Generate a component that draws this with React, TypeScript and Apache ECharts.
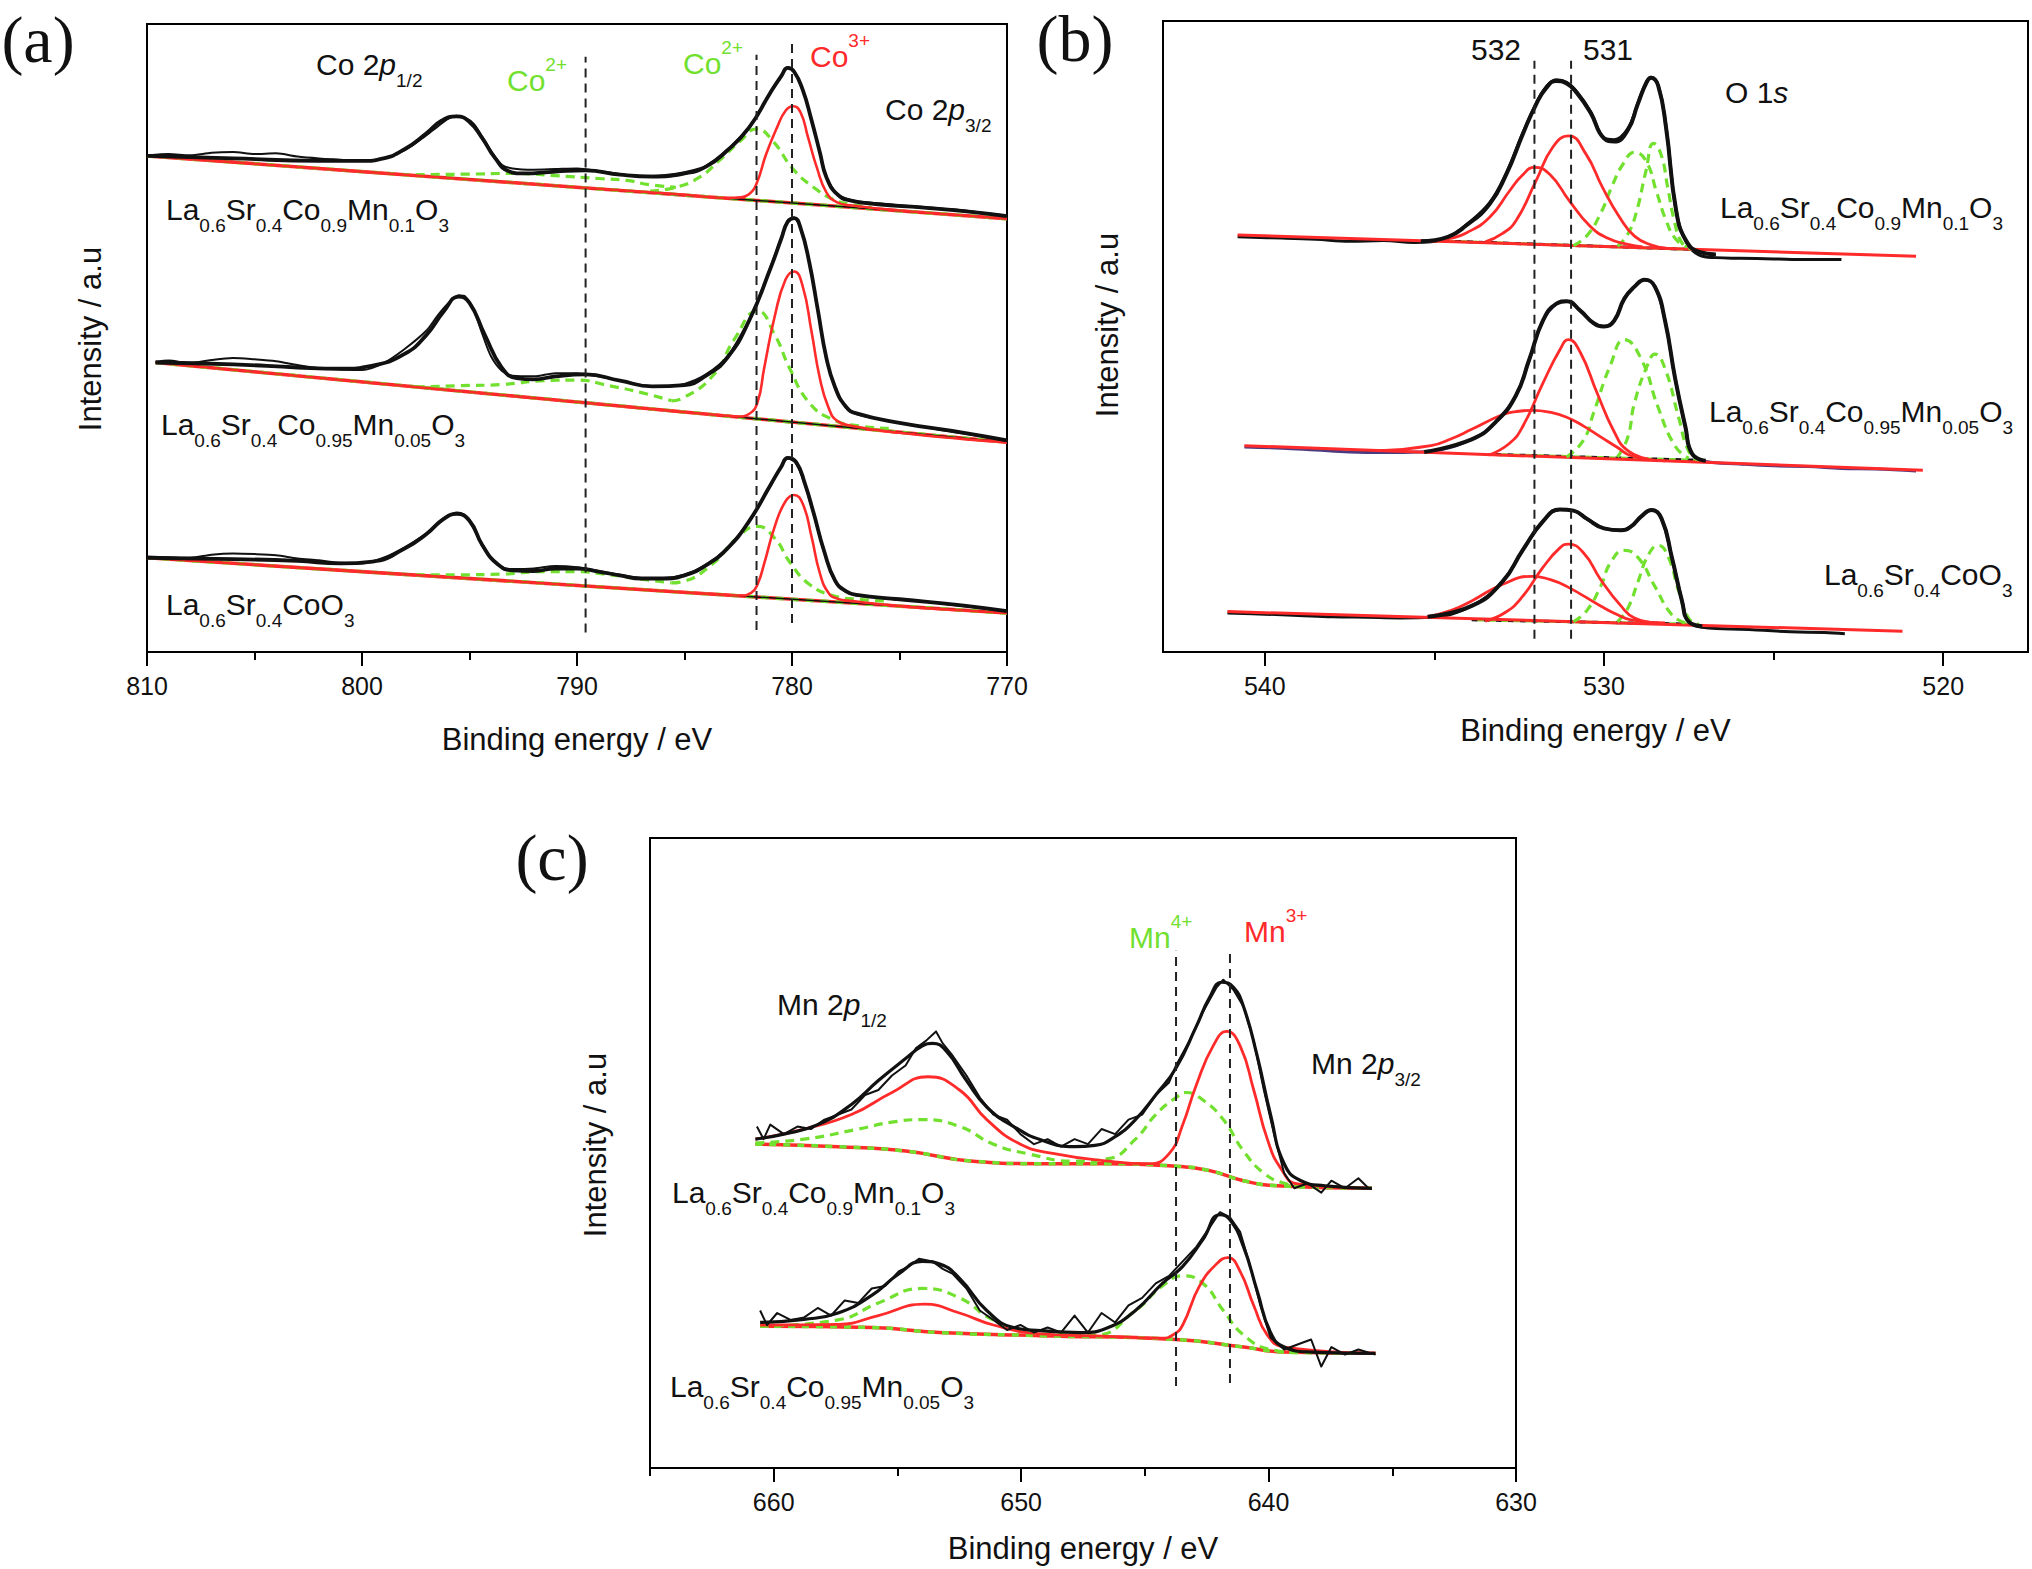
import React, { useEffect, useRef } from "react";
import * as echarts from "echarts";

const FONT = "'Liberation Sans', Arial, Helvetica, sans-serif";
const SERIF = "'Liberation Serif', 'Times New Roman', serif";
const INK = "#111111";
const RED = "#ff2a2a";
const GREEN = "#72e02e";

// ---------- axis ticks ----------
const A_MAJOR = [770, 780, 790, 800, 810];
const A_MINOR = [775, 785, 795, 805];
const B_MAJOR = [520, 530, 540];
const B_MINOR = [525, 535];
const C_MAJOR = [630, 640, 650, 660];
const C_MINOR = [635, 645, 655, 665];

// ---------- panel (a): Co 2p ----------
const A_TOP_RAW = [[809.9,79.1],[809,79.3],[808,79.1],[807,79.5],[806,79.6],[805,79.3],[804,79.4],[803,78.9],[802,78.6],[801,78.4],[800,78.2],[799,78.6],[798,79.9],[797,82.3],[796.5,83.6],[796,84.9],[795.6,85.4],[795.2,85.1],[794.8,84.1],[794.4,82.0],[794,79.8],[793.5,77.6],[793,77.0],[792,76.8],[791,76.9],[790,77.0],[789,76.6],[788,76.1],[787,75.8],[786,75.9],[785,76.4],[784,77.4],[783,80.0],[782,83.6],[781.5,86.1],[781,89.2],[780.5,91.8],[780.2,93.1],[779.9,92.5],[779.5,89.6],[779.1,84.9],[778.7,79.6],[778.4,75.7],[777.9,73.0],[777.3,72.0],[776.5,71.6],[775.3,71.2],[774,70.9],[773,70.6],[772.2,70.4],[771,69.9],[770,69.5]];
const A_TOP_FIT = [[810,79.0],[806,78.6],[802,78.2],[800,78.2],[799,78.6],[798,80.1],[797,82.6],[796.3,84.6],[795.6,85.3],[795,84.4],[794.4,81.8],[793.8,78.6],[793.2,76.6],[792.5,76.2],[791,76.5],[789.6,76.7],[788,76.0],[786.5,75.7],[785,76.2],[784,77.3],[783,79.9],[782,83.5],[781,89.1],[780.5,91.7],[780.2,93.0],[779.9,92.4],[779.5,89.5],[779.1,84.8],[778.7,79.5],[778.4,75.6],[777.9,72.9],[777.3,71.9],[776,71.3],[774,70.8],[772,70.2],[770,69.4]];
const A_TOP_BG = [[810,79.0],[770,69.0]];
const A_TOP_CO3 = [[810,79.0],[800,76.5],[790,74.0],[785,72.8],[783,72.3],[782.4,72.4],[782.0,72.9],[781.66,74.5],[781.2,79.3],[780.7,83.5],[780.3,86.2],[779.95,86.9],[779.6,85.9],[779.25,81.9],[778.85,77.2],[778.4,73.2],[777.9,71.6],[777.2,71.1],[775,70.3],[772,69.5],[770,69.0]];
const A_TOP_CO2 = [[786.6,73.4],[785.4,74.0],[784.3,75.6],[783.4,78.2],[782.4,81.4],[781.65,83.3],[780.9,81.4],[779.95,76.9],[779.0,74.0],[778.1,72.1],[777.3,71.3],[776.3,70.8]];
const A_TOP_SAT = [[797.5,76.0],[795,76.1],[793,76.2],[790.8,75.8],[789,75.4],[787.7,75.1],[786.6,74.4],[785.4,74.0]];

const A_MID_RAW = [[809.6,46.2],[809,46.4],[808,46.0],[807,46.5],[806,46.8],[805,46.6],[804,46.3],[803,45.7],[802,45.2],[801,45.0],[800,44.9],[799,46.0],[798,48.3],[797,51.2],[796.5,53.5],[796,55.5],[795.5,56.8],[795.2,56.6],[794.8,54.4],[794.4,50.6],[794,47.1],[793.5,44.8],[793,44.0],[792,43.9],[791,44.4],[790,44.4],[789,43.9],[788,43.2],[787,42.5],[786,42.2],[785,42.7],[784,44.2],[783,47.1],[782,52.9],[781.5,56.7],[781,61.3],[780.5,66.0],[780.2,68.7],[779.9,69.2],[779.6,67.5],[779.2,62.1],[778.8,54.4],[778.4,46.7],[778,42.1],[777.5,39.0],[777,37.9],[776,37.1],[775,36.5],[774,35.9],[773,35.3],[772,34.8],[771,34.2],[770,33.6]];
const A_MID_FIT = [[809.6,46.1],[806,45.8],[803,45.3],[801,45.1],[799.5,45.6],[798,47.5],[797,50.5],[796.2,54.2],[795.5,56.6],[795,55.6],[794.3,50.6],[793.5,45.3],[792.8,43.6],[792,43.4],[791,43.9],[789.6,44.2],[788,43.2],[786.5,42.3],[785,42.5],[784,44.0],[783,46.9],[782,52.7],[781,61.1],[780.5,65.8],[780.2,68.5],[779.9,69.1],[779.6,67.5],[779.2,62.1],[778.8,54.5],[778.4,46.8],[778,42.2],[777.5,39.1],[777,38.0],[775,36.5],[772,34.9],[770,33.7]];
const A_MID_BG = [[809.6,46.1],[770,33.4]];
const A_MID_CO3 = [[809.6,46.1],[800,43.0],[790,39.8],[785,38.2],[783.3,37.7],[782.5,37.5],[782.0,37.9],[781.6,39.8],[781.3,45.1],[780.8,53.5],[780.3,59.3],[779.9,60.6],[779.5,58.2],[779.1,51.2],[778.7,43.5],[778.3,38.9],[777.9,36.8],[777.2,36.0],[775,34.9],[772,33.9],[770,33.4]];
const A_MID_CO2 = [[785.6,40.0],[785.1,40.4],[783.6,44.3],[782.7,49.7],[781.6,54.3],[780.8,50.5],[780.1,45.1],[779.2,39.7],[778.1,37.0],[776.9,36.0],[775.5,35.6]];
const A_MID_SAT = [[797.5,42.2],[795.5,42.4],[793.5,42.6],[791.5,43.2],[790,43.3],[788.5,42.4],[787,41.3],[785.6,40.0]];

const A_BOT_RAW = [[810,15.2],[809,15.1],[808,15.0],[807,15.5],[806,15.7],[805,15.6],[804,15.4],[803,14.9],[802,14.6],[801,14.2],[800,14.1],[799,15.0],[798,16.7],[797,18.9],[796.5,20.3],[796,21.6],[795.6,22.2],[795.2,21.7],[794.8,19.6],[794.4,16.9],[794,15.0],[793.5,13.5],[793,13.2],[792,13.3],[791,13.7],[790,13.5],[789,12.9],[788,12.3],[787,11.8],[786,11.8],[785,12.3],[784,13.9],[783,16.6],[782,20.8],[781.5,23.5],[781,26.6],[780.5,29.5],[780.2,30.8],[779.8,30.0],[779.4,26.6],[779,22.0],[778.5,15.8],[778,11.2],[777.5,9.6],[777,9.0],[776,8.7],[775,8.3],[774,8.1],[773,7.7],[772,7.3],[771,6.9],[770,6.5]];
const A_BOT_FIT = [[810,15.0],[806,14.8],[803,14.5],[801,14.1],[799.5,14.4],[798,16.5],[797,18.8],[796.2,21.2],[795.6,22.0],[795,20.9],[794.4,17.0],[793.7,14.0],[793,13.0],[792,12.9],[791,13.3],[790,13.3],[789,12.8],[788,12.2],[787,11.7],[786,11.7],[785,12.2],[784,13.8],[783,16.5],[782,20.8],[781,26.6],[780.5,29.5],[780.2,30.9],[779.8,30.2],[779.4,26.8],[779,22.2],[778.5,16.0],[778,11.4],[777.5,9.7],[777,9.1],[775,8.4],[772,7.4],[770,6.5]];
const A_BOT_BG = [[810,15.0],[770,6.2]];
const A_BOT_CO3 = [[810,15.0],[800,12.8],[790,10.6],[785,9.5],[783,9.1],[782.4,9.0],[781.9,9.4],[781.6,10.8],[781.3,14.0],[780.8,20.0],[780.3,24.0],[779.9,25.0],[779.5,23.6],[779.1,18.5],[778.7,12.5],[778.3,9.4],[777.9,8.5],[777.2,8.1],[775,7.3],[772,6.6],[770,6.2]];
const A_BOT_CO2 = [[785.6,11.0],[785.1,11.2],[783.6,14.3],[782.7,17.7],[781.6,20.0],[780.8,18.1],[780.1,14.3],[779.2,10.8],[778.1,9.0],[776.9,8.4],[775.5,8.1]];
const A_BOT_SAT = [[797.5,12.3],[795.5,12.3],[793.5,12.4],[791.5,12.8],[790,12.8],[788.5,12.3],[787,11.6],[785.6,11.0]];
// energy, bottom, top
const A_DASH = [[789.6,3.1,94.8],[781.65,3.5,95.1],[780.0,4.6,97.1]];

// ---------- panel (b): O 1s ----------
const B_TOP_RAW = [[540.8,65.8],[539.5,65.6],[538.5,65.4],[537.5,65.1],[536.5,65.2],[535.6,64.9],[535.1,65.0],[534.6,65.7],[534.06,67.7],[533.37,71.2],[532.88,75.9],[532.39,82.3],[532.0,86.9],[531.7,89.6],[531.41,90.7],[531.1,90.3],[530.8,88.8],[530.4,85.7],[530.0,81.5],[529.7,81.2],[529.3,82.9],[529.0,87.0],[528.75,90.4],[528.61,91.1],[528.4,89.8],[528.17,83.2],[527.87,69.8],[527.58,65.0],[527.19,62.9],[526.7,62.5],[526,62.4],[525,62.3],[524,62.2],[523,62.2]];
const B_TOP_FIT = [[535.4,65.1],[534.6,65.8],[534.06,67.6],[533.37,71.0],[532.88,75.7],[532.39,82.1],[532.0,86.8],[531.7,89.4],[531.41,90.5],[531.1,90.1],[530.8,88.6],[530.4,85.5],[530.0,81.4],[529.7,80.9],[529.3,82.7],[529.0,86.9],[528.75,90.2],[528.61,91.0],[528.4,89.7],[528.17,83.1],[527.87,69.9],[527.58,65.2],[527.19,63.4],[526.7,63.0]];
const B_TOP_BASE = [[540.8,66.1],[520.8,62.7]];
const B_TOP_P532 = [[535.04,65.2],[534.5,65.6],[534.06,66.4],[533.37,68.9],[532.78,73.1],[532.4,75.6],[532.05,76.8],[531.6,75.7],[531.02,71.5],[530.43,67.6],[529.9,65.6],[529.3,64.6],[528.86,64.2]];
const B_TOP_P531 = [[533.5,65.0],[533.0,66.3],[532.59,68.4],[532.0,74.7],[531.51,80.0],[531.04,81.8],[530.53,78.9],[530.04,73.6],[529.54,68.9],[529.1,65.9],[528.6,64.5],[528.17,64.0]];
const B_TOP_G1 = [[530.9,64.4],[530.5,66.0],[530.1,69.5],[529.75,74.0],[529.44,77.3],[529.10,79.2],[528.76,77.8],[528.46,73.1],[528.17,68.4],[527.88,65.4],[527.55,64.2]];
const B_TOP_G2 = [[529.6,64.3],[529.3,66.2],[529.05,69.6],[528.76,76.3],[528.54,80.6],[528.32,78.9],[528.12,73.6],[527.93,68.4],[527.72,65.0],[527.45,63.9]];
const B_TOP_BG = [[535.1,65.2],[527.4,63.8]];

const B_MID_RAW = [[540.6,32.5],[539.5,32.3],[538.5,32.0],[537.5,31.7],[536.5,31.6],[535.5,31.7],[535.1,31.8],[533.9,33.7],[533.2,36.4],[532.6,40.6],[532.2,46.4],[531.8,52.5],[531.4,55.2],[531.1,55.6],[530.7,54.1],[530.3,52.1],[530.0,51.6],[529.7,52.5],[529.4,56.0],[529.1,57.9],[528.8,59.0],[528.5,57.9],[528.2,52.5],[527.9,43.3],[527.6,35.7],[527.4,31.4],[527.0,30.2],[526,29.8],[525,29.5],[524,29.4],[523,29.1],[522,29.0],[520.8,28.7]];
const B_MID_FIT = [[535.3,31.7],[533.9,33.7],[533.2,36.4],[532.6,40.6],[532.2,46.4],[531.8,52.5],[531.4,55.2],[531.1,55.6],[530.7,54.1],[530.3,52.1],[530.0,51.6],[529.7,52.5],[529.4,56.0],[529.1,57.9],[528.8,59.0],[528.5,57.9],[528.2,52.5],[527.9,43.3],[527.6,35.7],[527.4,31.4],[527.0,30.3]];
const B_MID_BASE = [[540.6,32.7],[520.6,28.8]];
const B_MID_P532 = [[536.6,31.9],[535.1,32.7],[534.5,33.8],[533.9,35.3],[533.0,37.6],[532.6,38.1],[532.1,38.3],[531.6,38.0],[531.1,37.2],[530.6,35.8],[530.1,34.1],[529.6,32.4],[529.2,31.1],[528.2,30.3]];
const B_MID_P531 = [[533.4,31.2],[532.8,33.0],[532.4,35.7],[531.8,42.6],[531.3,47.9],[531.05,49.5],[530.7,47.5],[530.2,41.0],[529.7,34.9],[529.3,31.9],[528.7,30.6]];
const B_MID_G1 = [[531.1,30.9],[530.6,33.6],[530.3,38.0],[529.8,45.6],[529.4,49.5],[528.9,46.4],[528.4,38.7],[527.9,32.6],[527.5,30.7]];
const B_MID_G2 = [[529.6,30.9],[529.3,34.0],[529.1,39.5],[528.7,45.7],[528.5,47.2],[528.2,44.9],[527.8,37.2],[527.5,31.8],[527.2,30.4]];
const B_MID_BG = [[533.2,31.3],[527.3,30.4]];

const B_BOT_RAW = [[541.1,6.2],[540,6.0],[539,5.8],[538,5.6],[537,5.5],[536,5.4],[535.1,5.5],[533.9,7.3],[533.0,11.1],[532.4,16.1],[531.8,20.7],[531.3,22.6],[530.9,22.4],[530.5,21.1],[530.0,19.6],[529.5,19.3],[529.2,19.9],[528.9,21.5],[528.6,22.5],[528.3,21.1],[528.0,15.0],[527.7,8.1],[527.5,4.8],[527.1,3.9],[526.5,3.7],[525.5,3.5],[524.5,3.2],[523.5,3.1],[522.9,2.9]];
const B_BOT_FIT = [[535.2,5.6],[533.9,7.3],[533.0,11.1],[532.4,16.1],[531.8,20.7],[531.3,22.6],[530.9,22.4],[530.5,21.1],[530.0,19.6],[529.5,19.3],[529.2,19.9],[528.9,21.5],[528.6,22.5],[528.3,21.1],[528.0,15.0],[527.7,8.1],[527.5,4.8],[527.1,4.1]];
const B_BOT_BASE = [[541.1,6.4],[521.2,3.3]];
const B_BOT_P532 = [[535.2,5.6],[534.5,6.6],[533.9,8.1],[533.0,10.7],[532.1,12.0],[531.6,11.5],[531.1,10.4],[530.1,7.3],[529.6,5.9],[529.2,5.1],[528.2,4.6]];
const B_BOT_P531 = [[533.5,4.9],[532.9,6.3],[532.4,8.8],[531.8,13.4],[531.3,16.5],[531.05,17.1],[530.6,15.7],[530.1,11.5],[529.5,7.3],[529.1,5.4],[528.4,4.6]];
const B_BOT_G1 = [[530.9,4.8],[530.5,6.6],[530.1,10.4],[529.8,14.2],[529.4,16.1],[529.0,15.0],[528.5,10.4],[528.0,5.9],[527.6,4.6]];
const B_BOT_G2 = [[529.6,4.8],[529.3,6.9],[529.0,11.1],[528.7,15.3],[528.4,16.9],[528.1,15.0],[527.8,9.7],[527.5,5.3],[527.2,4.4]];
const B_BOT_BG = [[533.9,5.1],[527.3,4.4]];
const B_DASH = [[532.05,2.1,93.7],[530.97,2.1,93.7]];

// ---------- panel (c): Mn 2p ----------
const C_TOP_RAW = [[660.68,54.2],[660.41,52.2],[660.14,54.5],[659.59,53.0],[659.04,54.2],[658.50,53.8],[657.95,55.3],[657.40,56.1],[656.86,56.9],[656.31,59.2],[655.77,60.0],[655.22,62.3],[654.67,63.9],[654.26,66.6],[653.85,67.8],[653.44,69.3],[653.17,67.4],[652.76,65.4],[652.21,62.3],[651.67,58.8],[651.12,56.1],[650.57,55.3],[650.03,53.0],[649.48,51.4],[648.93,52.2],[648.39,51.0],[647.84,52.2],[647.30,51.4],[646.75,53.8],[646.20,53.0],[645.66,55.3],[645.11,56.1],[644.56,59.2],[644.02,61.2],[643.74,63.9],[643.20,67.8],[642.65,72.4],[642.10,76.3],[641.83,77.5],[641.42,75.9],[641.01,73.2],[640.60,67.8],[640.19,60.0],[639.78,53.0],[639.37,46.8],[638.96,44.4],[638.42,45.2],[637.87,43.7],[637.46,45.6],[636.91,44.4],[636.37,46.0],[635.96,44.4]];
const C_TOP_FIT = [[660.74,52.2],[659.59,53.0],[658.22,54.5],[656.86,57.7],[655.77,61.5],[654.67,65.0],[653.99,67.0],[653.58,67.4],[653.03,66.2],[652.21,61.5],[651.39,57.3],[650.30,54.2],[649.21,52.1],[647.84,51.0],[647.02,51.2],[646.20,52.6],[645.38,55.3],[644.56,59.2],[643.74,63.5],[642.92,70.1],[642.38,74.7],[641.89,77.1],[641.42,76.3],[641.01,73.2],[640.46,65.4],[639.92,56.1],[639.37,48.3],[638.69,45.6],[637.73,44.8],[635.82,44.4]];
const C_TOP_RED = [[660.74,52.2],[658.77,53.8],[656.86,56.1],[655.22,59.6],[653.77,62.1],[652.49,60.0],[651.39,55.3],[650.03,51.4],[648.66,49.9],[646.48,48.7],[644.84,48.3],[644.02,49.9],[643.47,54.5],[642.92,60.8],[642.24,67.0],[641.69,69.3],[641.15,67.0],[640.60,60.0],[640.05,52.2],[639.51,47.6],[638.83,45.1],[635.82,44.4]];
const C_TOP_GREEN = [[660.74,51.6],[658.77,52.2],[656.58,53.8],[655.22,54.9],[653.99,55.3],[652.49,54.2],[651.12,51.4],[649.75,49.9],[647.84,48.7],[646.48,49.1],[645.38,52.2],[644.56,56.1],[643.74,58.8],[643.33,59.6],[642.65,58.4],[641.83,55.3],[641.01,50.3],[640.19,46.8],[639.37,45.2],[638.5,44.6]];
const C_TOP_BG = [[660.74,51.4],[657.40,51.0],[654.67,50.3],[651.94,48.7],[649.21,48.3],[646.48,48.3],[643.74,47.9],[642.38,47.2],[641.01,45.6],[639.64,44.8],[635.82,44.4]];

const C_BOT_RAW = [[660.55,25.0],[660.27,22.7],[659.86,24.6],[659.32,23.5],[658.77,23.9],[658.22,25.4],[657.68,24.2],[657.13,26.6],[656.58,26.2],[656.04,28.5],[655.49,28.9],[654.95,31.2],[654.54,32.0],[654.13,33.2],[653.58,32.8],[653.17,31.6],[652.76,30.8],[652.21,28.5],[651.67,25.0],[651.12,23.5],[650.57,21.9],[650.03,22.7],[649.48,21.5],[648.93,22.3],[648.39,21.5],[647.84,24.2],[647.30,21.5],[646.75,24.6],[646.20,23.1],[645.66,25.8],[645.11,27.0],[644.56,29.3],[644.02,30.5],[643.47,32.8],[642.92,35.1],[642.38,38.2],[641.97,40.6],[641.56,39.8],[641.15,37.5],[640.74,32.0],[640.33,25.8],[639.92,20.7],[639.37,18.8],[638.83,19.6],[638.28,20.4],[637.87,16.1],[637.46,19.2],[636.91,18.0],[636.37,18.8],[635.68,18.0]];
const C_BOT_FIT = [[660.55,23.1],[658.77,23.6],[657.40,24.6],[656.04,27.4],[654.95,30.8],[653.99,32.8],[653.31,32.4],[652.49,30.1],[651.39,25.0],[650.30,22.3],[649.21,21.8],[647.57,21.5],[646.48,22.3],[645.38,25.0],[644.29,29.3],[643.47,32.0],[642.65,36.3],[641.97,40.2],[641.56,39.4],[641.01,35.1],[640.46,28.1],[639.92,21.5],[639.37,19.2],[638.28,18.4],[635.68,18.2]];
const C_BOT_RED = [[660.55,22.7],[657.40,22.8],[655.77,24.2],[653.91,26.0],[652.49,24.6],[651.12,22.7],[649.21,21.3],[646.48,20.9],[644.3,20.6],[643.8,21.3],[643.47,22.7],[642.79,28.9],[642.10,32.4],[641.64,33.4],[641.15,31.2],[640.60,25.8],[640.05,21.1],[639.37,19.2],[635.68,18.2]];
const C_BOT_GREEN = [[660.55,22.5],[657.40,23.5],[655.77,26.2],[653.99,28.5],[652.49,27.0],[651.12,23.5],[649.21,21.3],[647.02,21.1],[645.38,25.0],[644.29,28.9],[643.47,30.5],[642.65,29.3],[641.83,25.0],[641.01,21.1],[639.92,18.8],[638.8,18.3]];
const C_BOT_BG = [[660.55,22.5],[656.04,22.3],[653.31,21.5],[649.21,21.0],[643.74,20.4],[641.01,19.2],[639.37,18.4],[635.68,18.2]];
const C_DASH = [[643.74,13.0,82.1],[641.56,13.5,82.5]];

// ---------- helpers ----------
function ln(data: number[][], g: number, color: string, width: number, type: any = "solid", z = 3, smooth: number | boolean = 0.5, extra: any = {}) {
  return {
    type: "line",
    data,
    xAxisIndex: g * 2,
    yAxisIndex: g,
    symbol: "none",
    showSymbol: false,
    smooth,
    lineStyle: { color, width, type, cap: "butt", join: "round", ...extra },
    z,
    silent: true,
    animation: false,
  };
}

function dashSeries(list: number[][], g: number) {
  return list.map((d) =>
    ln([[d[0], d[1]], [d[0], d[2]]], g, "#222", 2, [9, 6], 6, false)
  );
}

function rich(color: string) {
  return {
    m: { fontSize: 30, lineHeight: 30, fontFamily: FONT, fill: color, verticalAlign: "top" },
    mi: { fontSize: 30, lineHeight: 30, fontFamily: FONT, fontStyle: "italic", fill: color, verticalAlign: "top" },
    s: { fontSize: 19, lineHeight: 19, padding: [22, 0, 0, 0], fontFamily: FONT, fill: color, verticalAlign: "top" },
    M: { fontSize: 30, lineHeight: 30, padding: [10, 0, 0, 0], fontFamily: FONT, fill: color, verticalAlign: "top" },
    S: { fontSize: 19, lineHeight: 19, fontFamily: FONT, fill: color, verticalAlign: "top" },
  };
}

function subText(x: number, yc: number, text: string, color = INK) {
  return {
    type: "text", x, y: yc - 15, z: 100,
    style: { text, rich: rich(color), fill: color, fontFamily: FONT, fontSize: 30, textAlign: "left", align: "left", textVerticalAlign: "top", verticalAlign: "top" },
  };
}
function supText(x: number, yc: number, text: string, color = INK) {
  return {
    type: "text", x, y: yc - 25, z: 100,
    style: { text, rich: rich(color), fill: color, fontFamily: FONT, fontSize: 30, textAlign: "left", align: "left", textVerticalAlign: "top", verticalAlign: "top" },
  };
}
function plain(x: number, yc: number, text: string, size: number, align = "center", family = FONT, rot = 0) {
  return {
    type: "text", x, y: yc, rotation: rot, z: 100,
    style: { text, fontSize: size, fontFamily: family, fill: INK, textAlign: align, align, textVerticalAlign: "middle", verticalAlign: "middle" },
  };
}

const LA1 = "{m|La}{s|0.6}{m|Sr}{s|0.4}{m|Co}{s|0.9}{m|Mn}{s|0.1}{m|O}{s|3}";
const LA2 = "{m|La}{s|0.6}{m|Sr}{s|0.4}{m|Co}{s|0.95}{m|Mn}{s|0.05}{m|O}{s|3}";
const LA3 = "{m|La}{s|0.6}{m|Sr}{s|0.4}{m|CoO}{s|3}";

function xAxes(g: number, min: number, max: number, major: number[], minor: number[], nameGap: number) {
  return [
    {
      type: "value", gridIndex: g, min, max, inverse: true, position: "bottom",
      axisLine: { show: true, onZero: false, lineStyle: { color: "#000", width: 2 } },
      axisTick: { show: true, inside: false, length: 14, customValues: major, lineStyle: { color: "#000", width: 2 } },
      axisLabel: { show: true, customValues: major, fontSize: 25, fontFamily: FONT, color: INK, margin: 21 },
      splitLine: { show: false },
      name: "Binding energy / eV", nameLocation: "middle", nameGap,
      nameTextStyle: { fontSize: 31, fontFamily: FONT, color: INK },
    },
    {
      type: "value", gridIndex: g, min, max, inverse: true, position: "bottom",
      axisLine: { show: false, onZero: false },
      axisTick: { show: true, inside: false, length: 8, customValues: minor, lineStyle: { color: "#000", width: 2 } },
      axisLabel: { show: false },
      splitLine: { show: false },
    },
  ];
}

function buildOption() {
  const series: any[] = [];
  // ---- panel a ----
  const aSets = [
    [A_TOP_RAW, A_TOP_FIT, A_TOP_BG, A_TOP_CO3, A_TOP_CO2, A_TOP_SAT],
    [A_MID_RAW, A_MID_FIT, A_MID_BG, A_MID_CO3, A_MID_CO2, A_MID_SAT],
    [A_BOT_RAW, A_BOT_FIT, A_BOT_BG, A_BOT_CO3, A_BOT_CO2, A_BOT_SAT],
  ];
  aSets.forEach(([raw, fit, bg, co3, co2, sat]) => {
    series.push(ln(bg, 0, RED, 3.5, "solid", 2, false));
    series.push(ln(bg, 0, GREEN, 3.5, [8, 7], 2, false));
    series.push(ln(bg, 0, INK, 1.6, "solid", 2, false));
    series.push(ln(sat, 0, GREEN, 3.2, [9, 6], 3, 0.5));
    series.push(ln(co2, 0, GREEN, 3.2, [9, 6], 3, 0.5));
    series.push(ln(co3, 0, RED, 2.6, "solid", 3, 0.5));
    series.push(ln(raw, 0, INK, 2, "solid", 4, 0.3));
    series.push(ln(fit, 0, INK, 3.8, "solid", 5, 0.5));
  });
  series.push(...dashSeries(A_DASH, 0));

  // ---- panel b ----
  const bSets = [
    [B_TOP_RAW, B_TOP_FIT, B_TOP_BASE, B_TOP_P532, B_TOP_P531, B_TOP_G1, B_TOP_G2, B_TOP_BG, INK],
    [B_MID_RAW, B_MID_FIT, B_MID_BASE, B_MID_P532, B_MID_P531, B_MID_G1, B_MID_G2, B_MID_BG, "#4a3a80"],
    [B_BOT_RAW, B_BOT_FIT, B_BOT_BASE, B_BOT_P532, B_BOT_P531, B_BOT_G1, B_BOT_G2, B_BOT_BG, INK],
  ];
  bSets.forEach(([raw, fit, base, p532, p531, g1, g2, bg, rawColor]: any) => {
    series.push(ln(raw, 1, rawColor, 3, "solid", 2, 0.4));
    series.push(ln(bg, 1, INK, 3, [6, 6], 3, false));
    series.push(ln(bg, 1, GREEN, 3, [6, 6], 3, false, { dashOffset: 6 }));
    series.push(ln(base, 1, RED, 3, "solid", 3, false));
    series.push(ln(g1, 1, GREEN, 3.2, [9, 6], 3, 0.5));
    series.push(ln(g2, 1, GREEN, 3.2, [9, 6], 3, 0.5));
    series.push(ln(p532, 1, RED, 2.8, "solid", 4, 0.5));
    series.push(ln(p531, 1, RED, 2.8, "solid", 4, 0.5));
    series.push(ln(fit, 1, INK, 4, "solid", 5, 0.5));
  });
  series.push(...dashSeries(B_DASH, 1));

  // ---- panel c ----
  const cSets = [
    [C_TOP_RAW, C_TOP_FIT, C_TOP_RED, C_TOP_GREEN, C_TOP_BG],
    [C_BOT_RAW, C_BOT_FIT, C_BOT_RED, C_BOT_GREEN, C_BOT_BG],
  ];
  cSets.forEach(([raw, fit, red, green, bg]) => {
    series.push(ln(bg, 2, RED, 3.5, "solid", 2, 0.5));
    series.push(ln(bg, 2, GREEN, 3.5, [7, 7], 2, 0.5));
    series.push(ln(green, 2, GREEN, 3.2, [9, 6], 3, 0.5));
    series.push(ln(red, 2, RED, 2.8, "solid", 3, 0.5));
    series.push(ln(raw, 2, INK, 2, "solid", 4, false));
    series.push(ln(fit, 2, INK, 3.2, "solid", 5, 0.5));
  });
  series.push(...dashSeries(C_DASH, 2));

  const graphic: any[] = [
    plain(38, 39, "(a)", 66, "center", SERIF),
    plain(1075, 38, "(b)", 66, "center", SERIF),
    plain(552, 857, "(c)", 66, "center", SERIF),
    plain(90, 339, "Intensity / a.u", 31, "center", FONT, Math.PI / 2),
    plain(1107, 325, "Intensity / a.u", 31, "center", FONT, Math.PI / 2),
    plain(595, 1145, "Intensity / a.u", 31, "center", FONT, Math.PI / 2),
    // panel a annotations
    subText(316, 64, "{m|Co 2}{mi|p}{s|1/2}"),
    supText(507, 80, "{M|Co}{S|2+}", GREEN),
    supText(683, 63, "{M|Co}{S|2+}", GREEN),
    supText(810, 56, "{M|Co}{S|3+}", RED),
    subText(885, 109, "{m|Co 2}{mi|p}{s|3/2}"),
    subText(166, 209, LA1),
    subText(161, 424, LA2),
    subText(166, 604, LA3),
    // panel b annotations
    plain(1496, 49, "532", 30),
    plain(1608, 49, "531", 30),
    subText(1725, 92, "{m|O 1}{mi|s}"),
    subText(1720, 207, LA1),
    subText(1709, 411, LA2),
    subText(1824, 574, LA3),
    // panel c annotations
    supText(1129, 937, "{M|Mn}{S|4+}", GREEN),
    supText(1244, 931, "{M|Mn}{S|3+}", RED),
    subText(777, 1004, "{m|Mn 2}{mi|p}{s|1/2}"),
    subText(1311, 1063, "{m|Mn 2}{mi|p}{s|3/2}"),
    subText(672, 1192, LA1),
    subText(670, 1386, LA2),
  ];

  return {
    animation: false,
    backgroundColor: "#ffffff",
    grid: [
      { left: 147, top: 24, width: 860, height: 628, show: true, borderColor: "#000", borderWidth: 2, backgroundColor: "transparent" },
      { left: 1163, top: 21, width: 865, height: 631, show: true, borderColor: "#000", borderWidth: 2, backgroundColor: "transparent" },
      { left: 650, top: 838, width: 866, height: 630, show: true, borderColor: "#000", borderWidth: 2, backgroundColor: "transparent" },
    ],
    xAxis: [
      ...xAxes(0, 770, 810, A_MAJOR, A_MINOR, 72),
      ...xAxes(1, 517.5, 543, B_MAJOR, B_MINOR, 63),
      ...xAxes(2, 630, 665, C_MAJOR, C_MINOR, 65),
    ],
    yAxis: [0, 1, 2].map((g) => ({ type: "value", gridIndex: g, min: 0, max: 100, show: false })),
    series,
    graphic,
  };
}

export default function App() {
  const ref = useRef<HTMLDivElement>(null);
  useEffect(() => {
    if (!ref.current) return;
    const chart = echarts.init(ref.current, null, { renderer: "svg" });
    chart.setOption(buildOption() as any);
    return () => chart.dispose();
  }, []);
  return (
    <div
      ref={ref}
      style={{ position: "absolute", left: 0, top: 0, width: 2032, height: 1569, background: "#fff" }}
    />
  );
}
